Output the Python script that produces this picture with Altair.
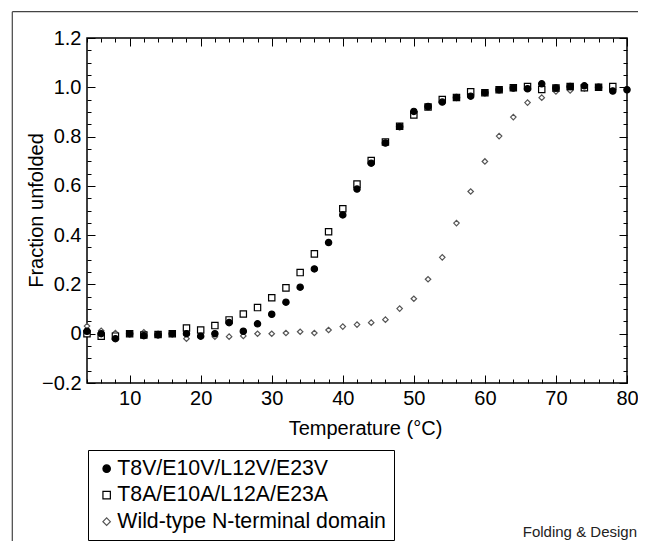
import altair as alt
import pandas as pd

# ---------------- data ----------------
series_names = ["T8V/E10V/L12V/E23V", "T8A/E10A/L12A/E23A", "Wild-type N-terminal domain"]

temps_v = [4, 6, 8, 10, 12, 14, 16, 18, 20, 22, 24, 26, 28, 30, 32, 34, 36, 38, 40,
           42, 44, 46, 48, 50, 52, 54, 56, 58, 60, 62, 64, 66, 68, 70, 72, 74, 76, 78, 80]
frac_v = [0.010, 0.000, -0.020, 0.000, -0.008, -0.005, 0.000, 0.000, -0.010, 0.000,
          0.045, 0.010, 0.040, 0.079, 0.128, 0.189, 0.263, 0.370, 0.482,
          0.587, 0.692, 0.774, 0.840, 0.902, 0.922, 0.940, 0.959, 0.964, 0.978,
          0.990, 0.997, 0.994, 1.014, 0.997, 1.003, 1.006, 1.000, 0.985, 0.990]

temps_a = [4, 6, 8, 10, 12, 14, 16, 18, 20, 22, 24, 26, 28, 30, 32, 34, 36, 38, 40,
           42, 44, 46, 48, 50, 52, 54, 56, 58, 60, 62, 64, 66, 68, 70, 72, 74, 76, 78]
frac_a = [0.000, -0.010, -0.010, 0.000, -0.005, -0.003, 0.000, 0.023, 0.015, 0.033,
          0.056, 0.080, 0.106, 0.146, 0.186, 0.248, 0.324, 0.414, 0.507,
          0.607, 0.703, 0.778, 0.842, 0.888, 0.920, 0.950, 0.959, 0.982, 0.978,
          0.990, 0.998, 1.003, 0.991, 0.997, 1.003, 0.998, 1.000, 1.003]

temps_wt = [4, 6, 8, 10, 12, 14, 16, 18, 20, 22, 24, 26, 28, 30, 32, 34, 36, 38, 40,
            42, 44, 46, 48, 50, 52, 54, 56, 58, 60, 62, 64, 66, 68, 70, 72, 74, 76, 78]
frac_wt = [0.031, 0.012, 0.003, 0.000, 0.006, 0.000, 0.000, -0.020, -0.010, -0.012,
           -0.012, -0.009, 0.000, 0.000, 0.003, 0.008, 0.003, 0.015, 0.029,
           0.037, 0.045, 0.057, 0.102, 0.142, 0.221, 0.310, 0.449, 0.577, 0.699,
           0.802, 0.879, 0.938, 0.958, 0.983, 0.987, 0.995, 1.000, 0.998]

# tick positions (labels shown only on the major ones)
x_tick_values = [4, 6, 8, 10, 12, 14, 16, 18, 20, 22, 24, 26, 28, 30, 32, 34, 36, 38, 40,
                 42, 44, 46, 48, 50, 52, 54, 56, 58, 60, 62, 64, 66, 68, 70, 72, 74, 76, 78, 80]
y_tick_values = [-0.2, -0.15, -0.1, -0.05, 0, 0.05, 0.1, 0.15, 0.2, 0.25, 0.3, 0.35, 0.4,
                 0.45, 0.5, 0.55, 0.6, 0.65, 0.7, 0.75, 0.8, 0.85, 0.9, 0.95, 1.0,
                 1.05, 1.1, 1.15, 1.2]

# ---------------- build table ----------------
rows = []
for t, f in zip(temps_wt, frac_wt):
    rows.append({"T": t, "F": f, "series": series_names[2]})
for t, f in zip(temps_a, frac_a):
    rows.append({"T": t, "F": f, "series": series_names[1]})
for t, f in zip(temps_v, frac_v):
    rows.append({"T": t, "F": f, "series": series_names[0]})
df = pd.DataFrame(rows)

W, H = 540, 345
FONT = "Liberation Sans"
TICK = 8

xs = alt.Scale(domain=[4, 80], nice=False, zero=False)
ys = alt.Scale(domain=[-0.2, 1.2], nice=False, zero=False)

x_major_test = "datum.value % 10 === 0"
y_major_test = "abs(datum.value * 5 - round(datum.value * 5)) < 1e-6"

x_dash = {"condition": {"test": x_major_test, "value": [8, 0]}, "value": [0, 4, 4, 0]}
y_dash = {"condition": {"test": y_major_test, "value": [8, 0]}, "value": [0, 4, 4, 0]}

common_tick = dict(ticks=True, tickSize=TICK, tickColor="black", tickWidth=1,
                   offset=-TICK, domain=False, grid=False,
                   labelFlush=False, labelOverlap=False)

x_axis = alt.Axis(
    orient="bottom", values=x_tick_values, tickDash=x_dash,
    labelExpr=f"{x_major_test} ? datum.label : ''",
    title="Temperature (°C)", labelPadding=5, titleX=278, titleY=59.5,
    titleBaseline="alphabetic", titleAlign="center", **common_tick)
y_axis = alt.Axis(
    orient="left", values=y_tick_values, tickDash=y_dash,
    labelExpr=f"{y_major_test} ? (abs(datum.value) < 1e-9 ? '0' : format(datum.value, '.1f')) : ''",
    title="Fraction unfolded", labelPadding=6, titleX=-52.5, titleY=172,
    titleAngle=-90, titleBaseline="alphabetic", titleAlign="center", **common_tick)

x_axis_top = alt.Axis(orient="top", values=x_tick_values, tickDash=x_dash,
                      labels=False, title=None, **common_tick)
y_axis_right = alt.Axis(orient="right", values=y_tick_values, tickDash=y_dash,
                        labels=False, title=None, **common_tick)

legend = alt.Legend(
    title=None, orient="none", legendX=1, legendY=412,
    strokeColor="black", padding=8, labelFontSize=21.3, labelFont=FONT,
    labelColor="black", labelLimit=500, symbolSize=55,
    symbolStrokeWidth=1.2,
    rowPadding=4.5, symbolOffset=0, labelOffset=0,
)

wt_test = "datum.series === 'Wild-type N-terminal domain'"

points = alt.Chart(df).mark_point(opacity=1, strokeWidth=1.2).encode(
    x=alt.X("T:Q", scale=xs, axis=x_axis),
    y=alt.Y("F:Q", scale=ys, axis=y_axis),
    shape=alt.Shape("series:N", scale=alt.Scale(domain=series_names,
                    range=["circle", "square", "diamond"]), legend=legend),
    fill=alt.Fill("series:N", scale=alt.Scale(domain=series_names,
                  range=["black", "white", "white"]), legend=legend),
    stroke=alt.Stroke("series:N", scale=alt.Scale(domain=series_names,
                      range=["black", "black", "#555555"]), legend=legend),
    size=alt.condition(wt_test, alt.value(30), alt.value(40)),
)

# invisible copy that only carries the mirrored (top / right) tick axes
mirror = alt.Chart(df).mark_point(opacity=0, size=1).encode(
    x=alt.X("T:Q", scale=xs, axis=x_axis_top),
    y=alt.Y("F:Q", scale=ys, axis=y_axis_right),
)

one = pd.DataFrame({"a": [0]})
frame_top = alt.Chart(one).mark_rule(color="#444444", strokeWidth=1.2).encode(
    x=alt.value(-74.7), x2=alt.value(560), y=alt.value(-26.3))
frame_left = alt.Chart(one).mark_rule(color="#444444", strokeWidth=1.2).encode(
    x=alt.value(-74.7), y=alt.value(-26.3), y2=alt.value(505))

credit = alt.Chart(pd.DataFrame({"t": ["Folding & Design"]})).mark_text(
    align="right", baseline="alphabetic", fontSize=15, font=FONT, color="#222222"
).encode(x=alt.value(550), y=alt.value(498.5), text="t:N")

chart = alt.layer(frame_top, frame_left, points, mirror, credit).resolve_axis(
    x="independent", y="independent"
).properties(
    width=W, height=H,
    autosize=alt.AutoSizeParams(type="none"),
    padding={"left": 79, "top": 30, "right": 11, "bottom": 158},
    background="white",
).configure_view(
    stroke="black", strokeWidth=1.5
).configure_axis(
    labelFont=FONT, labelFontSize=20, labelColor="black",
    titleFont=FONT, titleFontSize=20, titleColor="black", titleFontWeight="normal",
)

chart.save("out.html", embed_options={"renderer": "svg", "actions": False})
